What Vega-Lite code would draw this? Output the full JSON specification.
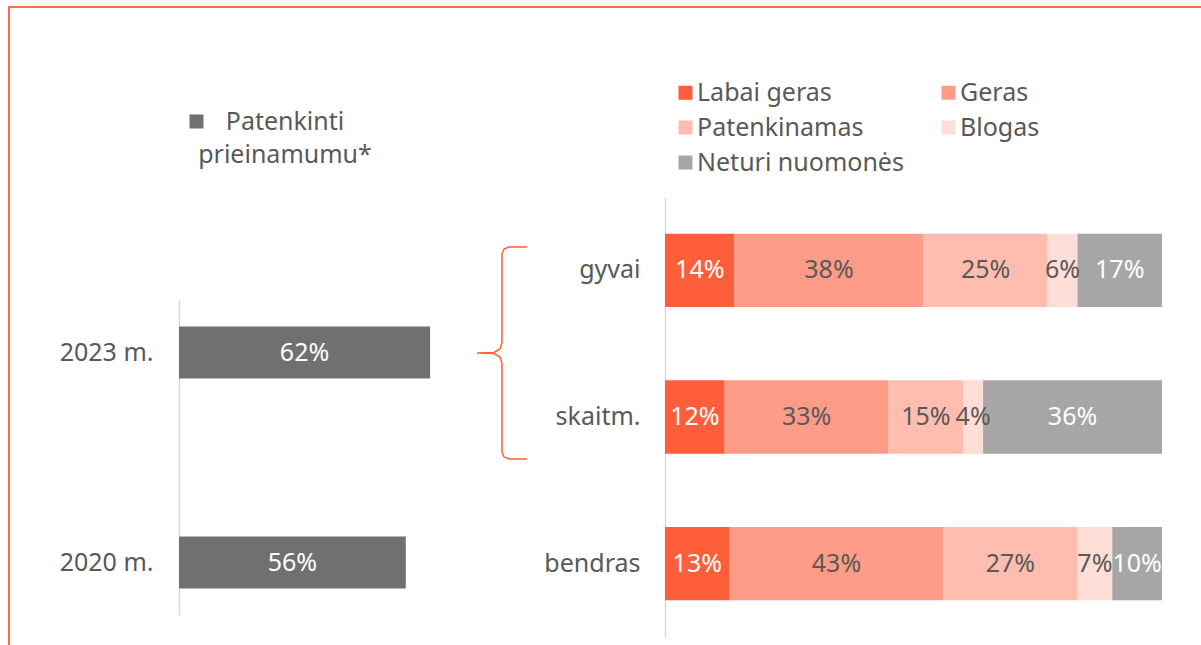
{
  "$schema": "https://vega.github.io/schema/vega-lite/v6.json",
  "width": 1192,
  "height": 638,
  "autosize": "none",
  "padding": {"left": 9, "top": 7, "right": 0, "bottom": 0},
  "background": "white",
  "config": {
    "font": "Noto Sans",
    "view": {"stroke": "#FF6A4D", "strokeWidth": 2, "strokeDash": [1192, 1830, 638]},
    "axis": {"labelFont": "Noto Sans", "labelFontSize": 25, "labelColor": "#595959", "domainColor": "#D9D9D9", "domainWidth": 1.5, "ticks": false, "grid": false, "title": null},
    "legend": {"labelFont": "Noto Sans", "labelFontSize": 25, "labelColor": "#595959", "symbolType": "square", "symbolSize": 196, "symbolStrokeWidth": 0, "title": null, "labelLimit": 400, "orient": "none"},
    "style": {"guide-label": {"lineHeight": 33}}
  },
  "datasets": {
    "left": [
      {"yr": "2023 m.", "v": 0.62, "s": "Patenkinti prieinamumu*"},
      {"yr": "2020 m.", "v": 0.56, "s": "Patenkinti prieinamumu*"}
    ],
    "right": [
      {"g": "gyvai", "c": "Labai geras", "v": 0.14},
      {"g": "gyvai", "c": "Geras", "v": 0.38},
      {"g": "gyvai", "c": "Patenkinamas", "v": 0.25},
      {"g": "gyvai", "c": "Blogas", "v": 0.06},
      {"g": "gyvai", "c": "Neturi nuomonės", "v": 0.17},
      {"g": "skaitm.", "c": "Labai geras", "v": 0.12},
      {"g": "skaitm.", "c": "Geras", "v": 0.33},
      {"g": "skaitm.", "c": "Patenkinamas", "v": 0.15},
      {"g": "skaitm.", "c": "Blogas", "v": 0.04},
      {"g": "skaitm.", "c": "Neturi nuomonės", "v": 0.36},
      {"g": "bendras", "c": "Labai geras", "v": 0.13},
      {"g": "bendras", "c": "Geras", "v": 0.43},
      {"g": "bendras", "c": "Patenkinamas", "v": 0.27},
      {"g": "bendras", "c": "Blogas", "v": 0.07},
      {"g": "bendras", "c": "Neturi nuomonės", "v": 0.10}
    ],
    "brace": [
      {"i": 1, "x": -0.2777, "y": -0.159},
      {"i": 2, "x": -0.3139, "y": -0.159},
      {"i": 3, "x": -0.3239, "y": -0.145},
      {"i": 4, "x": -0.3280, "y": -0.111},
      {"i": 5, "x": -0.3280, "y": 0.495},
      {"i": 6, "x": -0.3320, "y": 0.536},
      {"i": 7, "x": -0.3441, "y": 0.560},
      {"i": 8, "x": -0.3783, "y": 0.564},
      {"i": 9, "x": -0.3441, "y": 0.567},
      {"i": 10, "x": -0.3320, "y": 0.591},
      {"i": 11, "x": -0.3280, "y": 0.632},
      {"i": 12, "x": -0.3280, "y": 1.239},
      {"i": 13, "x": -0.3239, "y": 1.273},
      {"i": 14, "x": -0.3139, "y": 1.286},
      {"i": 15, "x": -0.2777, "y": 1.286}
    ]
  },
  "layer": [
    {
      "data": {"name": "left"},
      "transform": [{"calculate": "datum.v/2", "as": "mid"}],
      "encoding": {
        "y": {"field": "yr", "type": "nominal",
          "scale": {"domain": ["2023 m.", "2020 m."], "range": [293, 608], "paddingInner": 0.752, "paddingOuter": 0.126},
          "axis": {"orient": "left", "offset": -170, "labelPadding": 26}}
      },
      "layer": [
        {
          "mark": {"type": "bar"},
          "encoding": {
            "x": {"field": "v", "type": "quantitative", "scale": {"domain": [0, 1], "range": [170, 575], "zero": false, "nice": false}, "axis": null},
            "color": {"field": "s", "type": "nominal", "scale": {"domain": ["Patenkinti prieinamumu*"], "range": ["#707070"]},
              "legend": {"legendX": 175, "legendY": 102, "labelOffset": 76, "labelBaseline": "middle", "labelAlign": "center",
                "labelExpr": "['Patenkinti', 'prieinamumu*']"}}
          }
        },
        {
          "mark": {"type": "text", "fontSize": 25, "color": "white", "align": "center", "baseline": "middle"},
          "encoding": {
            "x": {"field": "mid", "type": "quantitative"},
            "text": {"field": "v", "type": "quantitative", "format": ".0%"}
          }
        }
      ]
    },
    {
      "layer": [
        {
          "data": {"name": "right"},
          "transform": [
            {"calculate": "indexof(['Labai geras','Geras','Patenkinamas','Blogas','Neturi nuomonės'], datum.c)", "as": "k"},
            {"stack": "v", "groupby": ["g"], "sort": [{"field": "k", "order": "ascending"}], "as": ["v0", "v1"]},
            {"calculate": "(datum.v0+datum.v1)/2", "as": "mid"}
          ],
          "encoding": {
            "y": {"field": "g", "type": "nominal",
              "scale": {"domain": ["gyvai", "skaitm.", "bendras"], "range": [190, 630], "paddingInner": 0.5, "paddingOuter": 0.25},
              "axis": {"orient": "left", "offset": -656, "labelPadding": 25}}
          },
          "layer": [
            {
              "mark": {"type": "bar"},
              "encoding": {
                "x": {"field": "v0", "type": "quantitative", "scale": {"domain": [0, 1], "range": [656, 1153], "zero": false, "nice": false}, "axis": null},
                "x2": {"field": "v1"},
                "color": {"field": "c", "type": "nominal",
                  "scale": {"domain": ["Labai geras", "Geras", "Patenkinamas", "Blogas", "Neturi nuomonės"], "range": ["#FF5E3A", "#FF9C87", "#FFBDB0", "#FFDED7", "#A6A6A6"]},
                  "legend": {"legendX": 664, "legendY": 73, "columns": 2, "direction": "horizontal", "columnPadding": 32, "rowPadding": 9, "labelOffset": -1}}
              }
            },
            {
              "mark": {"type": "text", "fontSize": 25, "align": "center", "baseline": "middle"},
              "encoding": {
                "x": {"field": "mid", "type": "quantitative"},
                "text": {"field": "v", "type": "quantitative", "format": ".0%"},
                "color": {"condition": {"test": "datum.c === 'Labai geras' || datum.c === 'Neturi nuomonės'", "value": "#FFFFFF"}, "value": "#595959"}
              }
            }
          ]
        },
        {
          "data": {"name": "brace"},
          "mark": {"type": "line", "color": "#FF5E3A", "strokeWidth": 1.5, "interpolate": "linear"},
          "encoding": {
            "x": {"field": "x", "type": "quantitative", "scale": {"domain": [0, 1], "range": [656, 1153], "zero": false, "nice": false}, "axis": null},
            "y": {"field": "y", "type": "quantitative", "scale": {"domain": [-0.5, 2.5], "range": [190, 630], "zero": false, "nice": false}, "axis": null},
            "order": {"field": "i", "type": "quantitative"}
          }
        }
      ],
      "resolve": {"scale": {"y": "independent"}, "axis": {"y": "independent"}}
    }
  ],
  "resolve": {
    "scale": {"x": "independent", "y": "independent", "color": "independent"},
    "axis": {"x": "independent", "y": "independent"},
    "legend": {"color": "independent"}
  }
}
